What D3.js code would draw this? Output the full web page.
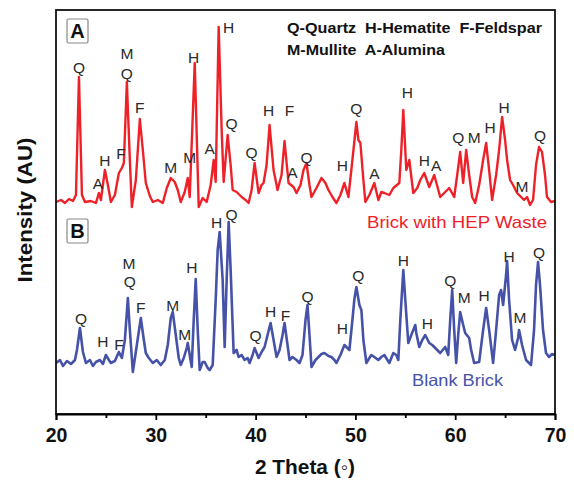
<!DOCTYPE html>
<html>
<head>
<meta charset="utf-8">
<script src="https://cdn.jsdelivr.net/npm/d3@7"></script>
<style>
  body { margin: 0; background: #fff; }
  svg text { font-family: "Liberation Sans", Arial, sans-serif; }
</style>
</head>
<body>
<svg id="chart"></svg>
<script>
// 2 theta (deg) and intensity (AU); red trace is stacked above blue
let hepTheta = [20.0,20.5,20.9,21.3,21.7,22.0,22.3,22.6,22.9,23.5,24.0,24.3,24.5,24.9,25.2,25.5,25.9,26.3,26.6,26.8,27.1,27.4,27.6,28.0,28.4,28.7,29.0,29.4,29.7,30.2,30.7,31.1,31.5,31.9,32.2,32.5,32.9,33.2,33.4,33.9,34.3,34.7,35.1,35.5,35.8,36.0,36.3,36.6,36.8,37.2,37.5,37.7,38.1,38.6,39.0,39.3,39.6,39.9,40.3,40.6,40.8,41.1,41.4,41.8,42.2,42.6,42.9,43.3,43.8,44.1,44.5,44.8,45.1,45.4,45.6,46.1,46.6,47.0,47.3,47.7,48.1,48.5,48.9,49.3,49.7,50.1,50.3,50.5,50.8,51.0,51.4,51.9,52.3,52.6,52.9,53.4,53.8,54.4,54.6,54.8,55.1,55.4,55.8,56.2,56.5,56.9,57.4,57.9,58.5,58.9,59.4,59.9,60.2,60.5,60.8,61.1,61.4,61.7,62.0,62.4,62.8,63.1,63.4,63.7,64.1,64.4,64.7,65.0,65.2,65.5,65.8,66.2,66.6,66.9,67.2,67.5,67.8,68.1,68.4,68.7,69.0,69.2,69.6,70.0];
let hepIntensity = [212,214,211,215,213,219,337,219,212,213,211,221,214,244,229,212,219,241,246,251,332,254,207,234,295,264,231,218,212,214,211,226,236,232,224,212,222,236,217,351,207,216,212,229,254,232,387,284,232,279,249,224,222,217,214,211,224,251,221,229,231,249,289,244,224,239,273,231,227,221,229,244,251,229,217,226,236,231,224,217,211,219,231,217,254,292,274,271,234,212,219,231,214,222,221,219,226,231,264,304,244,254,221,226,234,241,227,239,217,221,226,217,239,262,231,264,239,217,211,229,254,271,244,214,239,264,297,274,254,234,229,221,217,214,217,209,214,249,267,262,239,217,212,213];

let blankTheta = [20.0,20.4,20.7,21.1,21.5,21.9,22.1,22.4,22.7,23.0,23.4,23.7,24.0,24.4,24.7,25.0,25.3,25.5,25.9,26.3,26.6,26.9,27.2,27.4,27.7,28.1,28.5,28.8,29.0,29.3,29.7,30.1,30.5,30.9,31.2,31.5,31.7,32.0,32.3,32.5,32.8,33.1,33.2,33.6,33.8,34.0,34.2,34.4,34.7,34.9,35.2,35.4,35.7,36.0,36.2,36.4,36.7,36.9,37.1,37.3,37.5,37.8,38.1,38.3,38.6,38.9,39.2,39.4,39.7,39.9,40.3,40.6,40.9,41.2,41.5,41.8,42.1,42.4,42.7,42.9,43.2,43.4,43.7,44.1,44.4,44.7,45.0,45.2,45.4,45.6,46.0,46.3,46.6,46.9,47.3,47.6,47.9,48.1,48.5,48.9,49.2,49.4,49.7,49.9,50.1,50.4,50.6,50.8,51.1,51.4,51.6,51.9,52.3,52.6,52.9,53.4,53.8,54.1,54.3,54.5,54.8,55.0,55.3,55.6,56.0,56.1,56.4,56.7,57.0,57.4,57.7,57.9,58.5,59.0,59.3,59.5,59.7,59.9,60.1,60.3,60.5,60.8,61.0,61.4,61.6,61.9,62.4,62.8,63.1,63.4,63.8,64.1,64.4,64.6,64.8,65.1,65.2,65.4,65.7,66.0,66.3,66.4,66.7,67.1,67.4,67.6,67.9,68.1,68.3,68.5,68.8,69.1,69.4,69.7,70.0];
let blankIntensity = [51,54,48,53,50,54,64,86,62,51,54,48,52,54,50,59,54,51,53,62,56,74,116,84,42,69,96,74,61,56,51,54,49,54,69,96,102,79,56,49,56,66,71,47,94,135,84,44,52,52,46,44,49,114,164,182,134,67,134,192,144,61,64,57,59,54,56,51,59,66,56,62,67,79,91,74,57,64,79,91,69,54,57,54,51,59,94,109,79,47,54,57,60,61,58,57,54,51,59,69,66,64,94,115,127,109,104,74,51,56,59,57,54,57,59,51,61,59,54,94,144,114,71,79,89,81,67,74,79,71,69,67,61,67,59,94,124,84,51,79,102,89,81,76,64,51,52,84,106,84,51,84,119,124,109,139,153,114,74,64,76,84,69,54,51,49,84,129,152,129,84,61,57,60,59];

// peak annotations: phase letter, 2 theta and intensity where the letter sits
let hepLabels = ["Q","A","H","F","M","Q","F","M","M","H","A","H","Q","Q","H","F","A","Q","H","Q","A","H","H","A","Q","M","H","H","M","Q"];
let hepLabelTheta = [22.3,24.2,24.9,26.5,27.1,27.1,28.4,31.5,33.4,33.8,35.4,37.3,37.6,39.6,41.3,43.4,43.7,45.1,48.7,50.1,51.9,55.2,56.9,58.1,60.3,61.9,63.5,64.9,66.7,68.5];
let hepLabelY = [347,231,254,261,361,341,307,247,257,357,266,387,291,262,304,304,242,257,249,306,241,322,254,249,277,277,287,307,228,279];

let blankLabels = ["Q","H","F","M","Q","F","M","M","H","H","Q","Q","H","F","Q","H","Q","H","H","Q","M","H","H","M","Q"];
let blankLabelTheta = [22.5,24.7,26.3,27.3,27.4,28.5,31.7,32.9,33.6,36.1,37.6,40.0,41.5,43.0,45.2,48.7,50.3,54.8,57.2,59.5,60.9,62.9,65.4,66.5,68.4];
let blankLabelY = [96,73,70,151,133,107,109,80,147,192,200,79,103,99,118,86,139,154,91,134,117,119,158,97,162];

let xTicks = [20, 30, 40, 50, 60, 70];
let xMinorTicks = [25, 35, 45, 55, 65];

window.addEventListener('load', e => {
    drawPattern();
});

function drawPattern() {
    let width = 574;
    let height = 483;
    let left = 56, right = 555, top = 10, bottom = 414;
    let red = "#ee2128";
    let blue = "#4552a8";

    let svg = d3.select("#chart")
                .attr("width", width)
                .attr("height", height);

    let xScale = d3.scaleLinear()
                   .domain([20, 70])
                   .range([left, right]);

    let yScale = d3.scaleLinear()
                   .domain([0, 404])
                   .range([bottom, top]);

    let line = d3.line()
                 .x(d => xScale(d[0]))
                 .y(d => yScale(d[1]));

    svg.append("path")
       .datum(d3.zip(hepTheta, hepIntensity))
       .attr("d", line)
       .attr("fill", "none")
       .attr("stroke", red)
       .attr("stroke-width", 2.4)
       .attr("stroke-linejoin", "round");

    svg.append("path")
       .datum(d3.zip(blankTheta, blankIntensity))
       .attr("d", line)
       .attr("fill", "none")
       .attr("stroke", blue)
       .attr("stroke-width", 2.6)
       .attr("stroke-linejoin", "round");

    // peak letters
    let addLabels = (letters, thetas, ys) => {
        svg.append("g")
           .selectAll("text")
           .data(letters)
           .enter()
           .append("text")
           .attr("x", (d, i) => xScale(thetas[i]))
           .attr("y", (d, i) => yScale(ys[i]))
           .attr("dy", "0.36em")
           .attr("text-anchor", "middle")
           .attr("font-size", 15.5)
           .attr("fill", "#2a2a2a")
           .text(d => d);
    };
    addLabels(hepLabels, hepLabelTheta, hepLabelY);
    addLabels(blankLabels, blankLabelTheta, blankLabelY);

    // frame
    svg.append("rect")
       .attr("x", left)
       .attr("y", top)
       .attr("width", right - left)
       .attr("height", bottom - top)
       .attr("fill", "none")
       .attr("stroke", "#111")
       .attr("stroke-width", 1.8);

    // x axis
    let axis = svg.append("g")
                  .attr("transform", "translate(0," + bottom + ")")
                  .call(d3.axisBottom(xScale).tickValues(xTicks).tickSize(6).tickPadding(8).tickFormat(d3.format("d")));
    axis.select(".domain").attr("stroke-width", 1.8);
    axis.selectAll(".tick line").attr("stroke-width", 1.8);
    axis.selectAll("text")
        .attr("font-size", 19.5)
        .attr("font-weight", "bold")
        .attr("fill", "#111")
        .attr("font-family", "Liberation Sans, Arial, sans-serif");

    svg.append("g")
       .attr("transform", "translate(0," + bottom + ")")
       .call(d3.axisBottom(xScale).tickValues(xMinorTicks).tickSize(4).tickFormat(""))
       .call(g => g.select(".domain").remove())
       .selectAll("line").attr("stroke-width", 1.8);

    svg.append("text")
       .attr("x", 305)
       .attr("y", 474)
       .attr("text-anchor", "middle")
       .attr("font-size", 20)
       .attr("font-weight", "bold")
       .attr("fill", "#111")
       .attr("textLength", 100)
       .attr("lengthAdjust", "spacingAndGlyphs")
       .text("2 Theta (\u25E6)");

    svg.append("text")
       .attr("transform", "translate(32,210) rotate(-90)")
       .attr("text-anchor", "middle")
       .attr("font-size", 20)
       .attr("font-weight", "bold")
       .attr("fill", "#111")
       .attr("textLength", 145)
       .attr("lengthAdjust", "spacingAndGlyphs")
       .text("Intensity (AU)");

    // panel letters in boxes
    [["A", 19], ["B", 219]].forEach(p => {
        svg.append("rect")
           .attr("x", 67).attr("y", p[1])
           .attr("width", 21).attr("height", 24)
           .attr("fill", "none")
           .attr("stroke", "#888")
           .attr("stroke-width", 1.2)
           .attr("rx", 1.5);
        svg.append("text")
           .attr("x", 77.5).attr("y", p[1] + 12)
           .attr("dy", "0.36em")
           .attr("text-anchor", "middle")
           .attr("font-size", 20)
           .attr("font-weight", "bold")
           .attr("fill", "#111")
           .text(p[0]);
    });

    // key
    svg.append("text")
       .attr("x", 287).attr("y", 33)
       .attr("font-size", 14)
       .attr("font-weight", "bold")
       .attr("fill", "#111")
       .attr("xml:space", "preserve")
       .attr("textLength", 255)
       .attr("lengthAdjust", "spacingAndGlyphs")
       .text("Q-Quartz  H-Hematite  F-Feldspar");
    svg.append("text")
       .attr("x", 287).attr("y", 55)
       .attr("font-size", 14)
       .attr("font-weight", "bold")
       .attr("fill", "#111")
       .attr("xml:space", "preserve")
       .attr("textLength", 158)
       .attr("lengthAdjust", "spacingAndGlyphs")
       .text("M-Mullite  A-Alumina");

    svg.append("text")
       .attr("x", 367).attr("y", 228)
       .attr("font-size", 16.5)
       .attr("fill", red)
       .attr("textLength", 180)
       .attr("lengthAdjust", "spacingAndGlyphs")
       .text("Brick with HEP Waste");

    svg.append("text")
       .attr("x", 412).attr("y", 386)
       .attr("font-size", 16.5)
       .attr("fill", blue)
       .attr("textLength", 91)
       .attr("lengthAdjust", "spacingAndGlyphs")
       .text("Blank Brick");
}
</script>
</body>
</html>
